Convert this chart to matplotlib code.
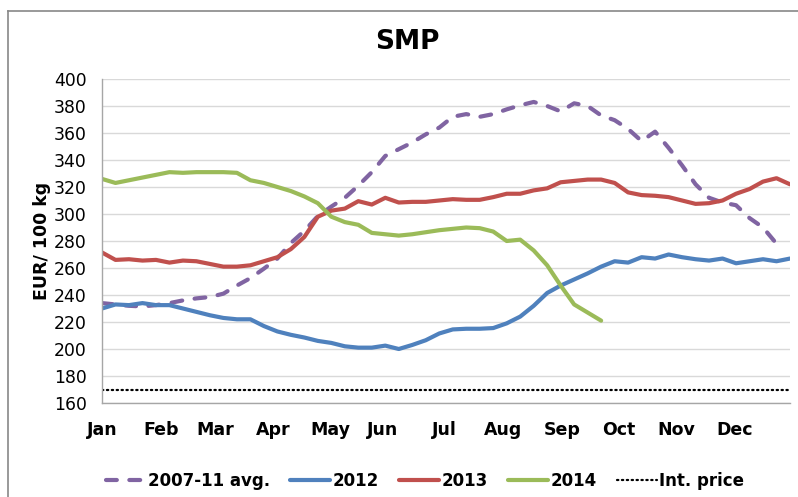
import matplotlib
matplotlib.use("Agg")
import matplotlib.pyplot as plt
from matplotlib.lines import Line2D

# weekly SMP prices, EUR/100 kg
avg_0711 = [234, 233, 232, 231.5, 232.5, 234, 236, 237.5, 238.5, 241, 247, 252.5, 259.5,
            267, 278.5, 287.5, 298.5, 305.5, 312, 321, 331, 343, 348, 353, 359, 364,
            372, 374, 372, 374, 377.5, 380.5, 383, 380, 376, 382, 380, 373, 369.5,
            363, 354, 361, 349, 336, 322, 312, 308.5, 306.5, 297, 290, 278]
y2012 = [230, 233, 232.5, 234, 232.5, 232.5, 230, 227.5, 225, 223, 222, 222, 217,
         213, 210.5, 208.5, 206, 204.5, 202, 201, 201, 202.5, 200, 203, 206.5, 211.5,
         214.5, 215, 215, 215.5, 219, 224, 232, 241.5, 247, 251.5, 256, 261, 265,
         264, 268, 267, 270, 268, 266.5, 265.5, 267, 263.5, 265, 266.5, 265, 267]
y2013 = [271.5, 266, 266.5, 265.5, 266, 264, 265.5, 265, 263, 261, 261, 262, 265,
         268, 274, 283, 298, 302.5, 304, 309.5, 307, 312, 308.5, 309, 309, 310,
         311, 310.5, 310.5, 312.5, 315, 315, 317.5, 319, 323.5, 324.5, 325.5, 325.5, 323,
         316, 314, 313.5, 312.5, 310, 307.5, 308, 310, 315, 318.5, 324, 326.5, 322]
y2014 = [326, 323, 325, 327, 329, 331, 330.5, 331, 331, 331, 330.5, 325, 323,
         320, 317, 313, 308, 298, 294, 292, 286, 285, 284, 285, 286.5, 288,
         289, 290, 289.5, 287, 280, 281, 273, 262, 247, 233, 227, 221]
int_price = 169.8

months = ["Jan", "Feb", "Mar", "Apr", "May", "Jun", "Jul", "Aug", "Sep", "Oct", "Nov", "Dec"]
month_pos = [0, 4.4, 8.4, 12.7, 16.9, 20.8, 25.4, 29.7, 34.1, 38.3, 42.6, 46.9]

plt.rcParams['font.family'] = ['DejaVu Sans']

fig = plt.figure(figsize=(7.98, 4.97), dpi=100)
ax = fig.add_axes([102 / 798, 1 - 403 / 497, 688 / 798, 324 / 497])

lw = 3.0
ax.plot(range(len(avg_0711)), avg_0711, color="#8064A2", lw=lw, dashes=(2.6, 3),
        dash_capstyle="round", label="2007-11 avg.")
ax.plot(range(len(y2012)), y2012, color="#4F81BD", lw=lw, solid_capstyle="round", label="2012")
ax.plot(range(len(y2013)), y2013, color="#C0504D", lw=lw, solid_capstyle="round", label="2013")
ax.plot(range(len(y2014)), y2014, color="#9BBB59", lw=lw, solid_capstyle="round", label="2014")
ax.plot([0, len(y2013) - 1], [int_price, int_price], color="black", lw=1.6, ls=(0, (0.6, 1.6)),
        dash_capstyle="round", label="Int. price")

ax.set_xlim(0, 51)
ax.set_ylim(160, 400)
ax.set_yticks(range(160, 401, 20))
ax.set_xticks(month_pos)
ax.set_xticklabels(months, fontsize=12.5, fontweight="bold")
ax.tick_params(axis="y", labelsize=12.4, length=0, pad=11)
ax.tick_params(axis="x", length=0, pad=13)
ax.grid(axis="y", color="#d9d9d9", lw=1)
ax.set_axisbelow(True)
for s in ["top", "right"]:
    ax.spines[s].set_visible(False)
for s in ["left", "bottom"]:
    ax.spines[s].set_color("#a6a6a6")
    ax.spines[s].set_linewidth(1)

ax.set_ylabel("EUR/ 100 kg", fontsize=12.5, fontweight="bold", labelpad=2)
fig.text(407 / 798, 1 - 42 / 497, "SMP", fontsize=19, fontweight="bold", ha="center", va="center")

fig.legend(loc="center", bbox_to_anchor=(425 / 798, 1 - 481 / 497), ncol=5, frameon=False,
           prop={"weight": "bold", "size": 12}, handlelength=2.4, handletextpad=0.15,
           columnspacing=1.2)

# chart border
fig.add_artist(Line2D([8 / 798, 8 / 798], [0, 1 - 11 / 497], color="#888888", lw=1.2,
                      transform=fig.transFigure))
fig.add_artist(Line2D([8 / 798, 1], [1 - 11 / 497, 1 - 11 / 497], color="#888888", lw=1.2,
                      transform=fig.transFigure))

fig.savefig("out.png", dpi=100)
